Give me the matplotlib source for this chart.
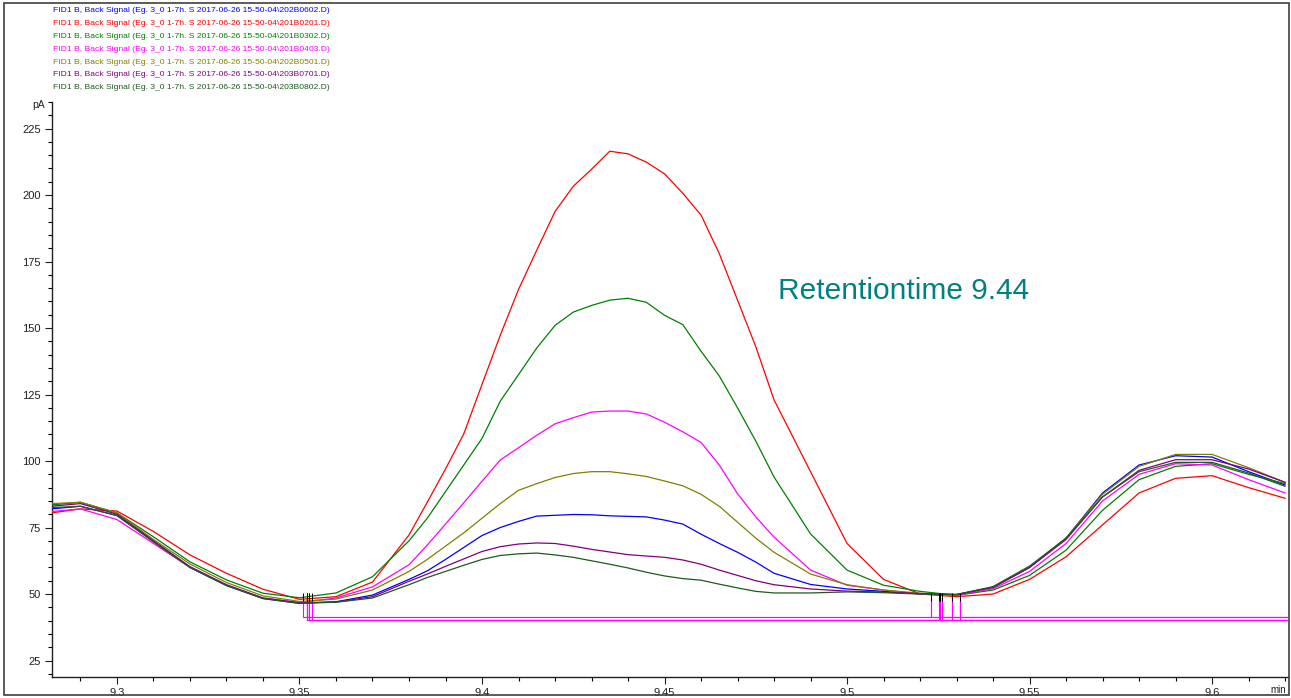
import matplotlib
matplotlib.use("Agg")
import matplotlib.pyplot as plt
from matplotlib.patches import Rectangle
from matplotlib.ticker import MultipleLocator
from matplotlib import font_manager

# retention time axis (min), shared by all runs
times = [9.282, 9.29, 9.30, 9.31, 9.32, 9.33, 9.34, 9.35, 9.36, 9.37,
         9.38, 9.385, 9.39, 9.395, 9.40, 9.405, 9.41, 9.415, 9.42, 9.425,
         9.43, 9.435, 9.44, 9.445, 9.45, 9.455, 9.46, 9.465, 9.47, 9.475,
         9.48, 9.49, 9.50, 9.51, 9.52, 9.53, 9.54, 9.55, 9.56, 9.57,
         9.58, 9.59, 9.60, 9.61, 9.62]

sig_b0602 = [82, 83, 79.5, 69.8, 60, 53.2, 48.3, 46.5, 47.1, 49.6,
             55.5, 58.7, 63, 67.5, 72, 75, 77.3, 79.3, 79.6, 79.9,
             79.8, 79.4, 79.2, 79, 77.8, 76.3, 72.5, 69, 65.7, 62,
             57.8, 53.6, 51.9, 51, 50, 49.8, 52.5, 60, 71, 88,
             98.5, 102, 101.5, 96, 91]
sig_b0201 = [80.5, 82, 81.2, 73.5, 64.7, 57.8, 51.8, 48, 49, 54.5,
             72.2, 84.5, 97, 110.2, 128.8, 147.3, 164.5, 179.3, 193.8, 203.3,
             209.7, 216.5, 215.5, 212.4, 208, 200.7, 192.5, 178, 160.5, 143,
             123, 96, 69, 55.5, 50, 49, 50, 55.5, 64, 76,
             88, 93.5, 94.5, 90, 86]
sig_b0302 = [83.5, 84.5, 80.5, 71.5, 62.1, 55.3, 50.3, 48.6, 50.4, 56.5,
             70, 78.5, 88.5, 98.5, 108.5, 122.5, 132.5, 142.5, 151, 156,
             158.5, 160.5, 161.2, 159.7, 154.8, 151.3, 141.3, 132, 120, 107.5,
             94, 72.6, 59, 53.3, 51, 49.5, 51.5, 57, 66.5, 81.5,
             93, 98, 99, 95, 91.5]
sig_b0403 = [81, 82, 78, 69, 60, 53.3, 48.5, 46.8, 48.5, 52.7,
             61, 68.4, 76.3, 84.3, 92.4, 100.4, 105, 109.7, 114, 116.3,
             118.4, 118.8, 118.8, 117.7, 114.6, 111, 107, 98.5, 87.7, 79,
             71.4, 59, 53.3, 51.5, 50, 49.5, 52, 58.5, 69, 85,
             95, 99, 98.5, 93, 88]
sig_b0501 = [84, 84.5, 80.5, 70.5, 61.3, 54.3, 49.3, 47.2, 48.1, 51.5,
             58.5, 63, 68, 73, 78.5, 84, 89, 91.5, 93.8, 95.3,
             96, 96, 95.2, 94.2, 92.5, 90.7, 87.5, 83, 77, 71,
             65.7, 57.5, 53.5, 51.5, 50.3, 49.8, 52.5, 60, 71, 87.5,
             98, 102.5, 102.5, 97.5, 92]
sig_b0701 = [83, 84, 80, 70, 60.3, 53.5, 48.5, 46.7, 47, 49,
             54.8, 57.5, 60.4, 63.2, 66, 67.8, 68.8, 69.2, 69, 68,
             66.8, 65.8, 64.8, 64.3, 63.8, 62.8, 61.2, 59, 57, 55,
             53.5, 51.9, 51.1, 50.7, 50.2, 49.8, 52.5, 60, 70.5, 86.5,
             96.5, 100.5, 100.5, 97, 92]
sig_b0802 = [82.5, 83, 79.5, 69.6, 60, 53.2, 48.3, 46.5, 46.9, 48.5,
             53.5, 56.2, 58.5, 60.8, 63, 64.5, 65.1, 65.4, 64.7, 63.8,
             62.5, 61.2, 59.8, 58.2, 56.8, 55.8, 55.2, 53.7, 52.3, 51,
             50.4, 50.4, 50.8, 50.5, 50, 49.8, 52.8, 60.5, 71, 86.5,
             96, 99.5, 99.5, 95.5, 90.5]

run_names = ["202B0602", "201B0201", "201B0302", "201B0403",
             "202B0501", "203B0701", "203B0802"]
run_colors = ["#0000ff", "#ff0000", "#008000", "#ff00ff",
              "#808000", "#800080", "#1f5a1f"]
signals = [sig_b0602, sig_b0201, sig_b0302, sig_b0403,
           sig_b0501, sig_b0701, sig_b0802]

# integration baselines (start, end, level) of the 9.44 peak and the next one
bl_start = [9.3520, 9.3509, 9.3526, 9.3534, 9.3520, 9.3526, 9.3520]
bl_end = [9.5251, 9.5231, 9.5255, 9.5261, 9.5287, 9.5309, 9.5255]
bl_level = [40.2, 41.3, 40.2, 40.2, 40.2, 40.2, 41.3]
next_level = [41.3, 41.3, 40.2, 41.3, 40.2, 40.2, 40.2]
drop_top = 48.5

W, H = 1291, 698
installed = {f.name for f in font_manager.fontManager.ttflist}
narrow = "Liberation Sans Narrow" if "Liberation Sans Narrow" in installed else "Liberation Sans"

fig = plt.figure(figsize=(W / 100, H / 100), dpi=100)
ax = fig.add_axes([52 / W, 1 - 677 / H, (1288 - 52) / W, (677 - 102) / H])

for sig, col in zip(signals, run_colors):
    ax.plot(times, sig, color=col, lw=0.9, zorder=3)

# baselines + drop lines
for s, e, lv, nl in zip(bl_start, bl_end, bl_level, next_level):
    ax.plot([s, s, e, e], [drop_top, lv, lv, drop_top], color="#ff00ff", lw=0.8, zorder=2)
    ax.plot([e, e, 9.64], [drop_top, nl, nl], color="#ff00ff", lw=0.8, zorder=2)
    ax.vlines([s, e], 47.5, 50.5, color="black", lw=0.7, zorder=4)

ax.set_xlim(9.2822, 9.6208)
ax.set_ylim(18.8, 235)
ax.xaxis.set_minor_locator(MultipleLocator(0.01))
ax.yaxis.set_minor_locator(MultipleLocator(5))
ax.set_xticks([9.3, 9.35, 9.4, 9.45, 9.5, 9.55, 9.6])
ax.set_xticklabels(["9.3", "9.35", "9.4", "9.45", "9.5", "9.55", "9.6"])
ax.set_yticks([25, 50, 75, 100, 125, 150, 175, 200, 225])
ax.tick_params(which="major", direction="out", length=5, width=0.8, pad=3,
               labelsize=8, colors="#202020")
ax.tick_params(which="minor", direction="out", length=3, width=0.8)
for lab in ax.get_xticklabels() + ax.get_yticklabels():
    lab.set_family(narrow)
for side in ["top", "right"]:
    ax.spines[side].set_visible(False)
for side in ["left", "bottom"]:
    ax.spines[side].set_linewidth(1.0)
    ax.spines[side].set_color("#202020")

# units
fig.text(45 / W, 1 - 105 / H, "pA", ha="right", va="center", fontsize=7.5,
         family=narrow, color="#202020")
fig.text(1286 / W, 1 - 690 / H, "min", ha="right", va="center", fontsize=7,
         family=narrow, color="#202020")

# run legend
for i, (name, col) in enumerate(zip(run_names, run_colors)):
    label = "FID1 B, Back Signal (Eg. 3_0 1-7h. S 2017-06-26 15-50-04\\" + name + ".D)"
    fig.text(53 / W, 1 - (11 + i * 12.8) / H, label, ha="left", va="center",
             fontsize=6.1, family=narrow, color=col)

ax.text(9.481, 164, "Retentiontime 9.44", ha="left", va="center",
        fontsize=21.5, family=narrow, color="#008080")

fig.patches.append(Rectangle((4 / W, 1 - 695 / H), (1289 - 4) / W, (695 - 3) / H,
                             transform=fig.transFigure, fill=False,
                             edgecolor="#404040", lw=1.2))

fig.savefig("out.png", dpi=100)
